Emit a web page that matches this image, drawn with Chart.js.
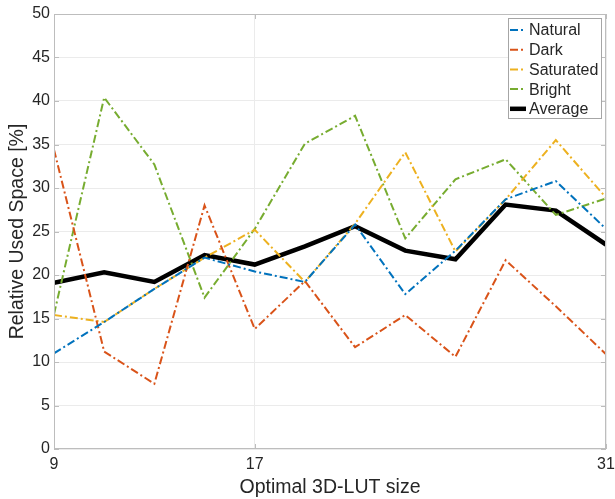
<!DOCTYPE html>
<html>
<head>
<meta charset="utf-8">
<script src="https://cdn.jsdelivr.net/npm/chart.js@4/dist/chart.umd.min.js"></script>
<style>
  html, body { margin: 0; padding: 0; background: #ffffff; }
  #wrap { width: 615px; height: 499px; }
</style>
</head>
<body>
<div id="wrap"><canvas id="c" width="615" height="499"></canvas></div>
<script>
// LUT sizes on the x axis and the relative used space per image class
const lutSizes = [9, 11, 13, 15, 17, 19, 21, 23, 25, 27, 29, 31];
const xTickValues = [9, 17, 31];
const naturalVals   = [11.0, 14.6, 18.4, 22.0, 20.4, 19.2, 25.8, 17.8, 22.8, 28.7, 30.8, 25.3];
const darkVals      = [34.4, 11.2, 7.5, 28.0, 13.8, 19.3, 11.7, 15.4, 10.6, 21.7, 16.4, 10.9];
const saturatedVals = [15.4, 14.6, 18.4, 22.0, 25.2, 19.2, 25.9, 34.1, 22.7, 28.7, 35.5, 28.9];
const brightVals    = [15.5, 40.4, 32.7, 17.4, 25.3, 35.1, 38.3, 24.2, 31.0, 33.3, 26.9, 28.8];
const averageVals   = [19.1, 20.3, 19.2, 22.3, 21.2, 23.3, 25.6, 22.8, 21.8, 28.1, 27.4, 23.5];
const seriesNames = ['Natural', 'Dark', 'Saturated', 'Bright', 'Average'];

const FONT = '"Liberation Sans", Arial, Helvetica, sans-serif';
const TEXT = '#262626';
const AXIS = '#bdbdbd';
const DASHDOT = [8, 3, 2, 3];

function pts(vals) { return vals.map((v, i) => ({ x: lutSizes[i], y: v })); }

function lineSet(label, vals, color, width, dash) {
  return {
    label, data: pts(vals), borderColor: color, backgroundColor: color,
    borderWidth: width, borderDash: dash, tension: 0, pointRadius: 0,
    fill: false, borderCapStyle: 'butt', borderJoinStyle: 'miter'
  };
}

// axes box with inward tick marks
const boxPlugin = {
  id: 'boxTicks',
  afterDraw(chart) {
    const { ctx, chartArea: a, scales } = chart;
    ctx.save();
    ctx.strokeStyle = AXIS;
    ctx.lineWidth = 1;
    ctx.setLineDash([]);
    ctx.strokeRect(a.left + 0.5, a.top + 0.5, a.right - a.left - 1, a.bottom - a.top - 1);
    const L = 5;
    ctx.beginPath();
    scales.y.ticks.forEach(t => {
      const y = Math.round(scales.y.getPixelForValue(t.value)) + 0.5;
      ctx.moveTo(a.left, y); ctx.lineTo(a.left + L, y);
      ctx.moveTo(a.right, y); ctx.lineTo(a.right - L, y);
    });
    scales.x.ticks.forEach(t => {
      const x = Math.round(scales.x.getPixelForValue(t.value)) + 0.5;
      ctx.moveTo(x, a.bottom); ctx.lineTo(x, a.bottom - L);
      ctx.moveTo(x, a.top); ctx.lineTo(x, a.top + L);
    });
    ctx.stroke();
    ctx.restore();
  }
};

// legend box in the upper right corner of the plot
const legendPlugin = {
  id: 'cornerLegend',
  afterDraw(chart) {
    const { ctx, chartArea: a } = chart;
    const boxW = 94, boxH = 101;
    const bx = a.right - 4 - boxW, by = a.top + 4;
    ctx.save();
    ctx.fillStyle = '#ffffff';
    ctx.fillRect(bx, by, boxW, boxH);
    ctx.strokeStyle = '#a6a6a6';
    ctx.lineWidth = 1;
    ctx.setLineDash([]);
    ctx.strokeRect(bx + 0.5, by + 0.5, boxW - 1, boxH - 1);
    ctx.font = '16px ' + FONT;
    ctx.textBaseline = 'middle';
    ctx.textAlign = 'left';
    chart.data.datasets.forEach((ds, i) => {
      const cy = by + 12 + i * 19.7;
      ctx.beginPath();
      ctx.strokeStyle = ds.borderColor;
      ctx.lineWidth = ds.borderWidth;
      ctx.setLineDash(ds.borderDash || []);
      ctx.moveTo(bx + 2, cy);
      ctx.lineTo(bx + 18, cy);
      ctx.stroke();
      ctx.setLineDash([]);
      ctx.fillStyle = TEXT;
      ctx.fillText(ds.label, bx + 21, cy + 1);
    });
    ctx.restore();
  }
};

new Chart(document.getElementById('c'), {
  type: 'line',
  data: {
    datasets: [
      lineSet(seriesNames[0], naturalVals, '#0072BD', 2, DASHDOT),
      lineSet(seriesNames[1], darkVals, '#D95319', 2, DASHDOT),
      lineSet(seriesNames[2], saturatedVals, '#EDB120', 2, DASHDOT),
      lineSet(seriesNames[3], brightVals, '#77AC30', 2, DASHDOT),
      lineSet(seriesNames[4], averageVals, '#000000', 4.5, [])
    ]
  },
  options: {
    responsive: false,
    animation: false,
    layout: { padding: { top: 14, right: 9, left: 0, bottom: 0 } },
    plugins: { legend: { display: false }, tooltip: { enabled: false } },
    scales: {
      x: {
        type: 'linear', min: 9, max: 31,
        afterBuildTicks: s => { s.ticks = xTickValues.map(v => ({ value: v })); },
        afterFit: s => { s.height = 50; s.paddingRight = 0; s.paddingLeft = 0; },
        grid: { color: '#ebebeb', drawTicks: false, lineWidth: 1 },
        border: { display: false },
        ticks: { color: TEXT, font: { family: FONT, size: 16 }, padding: 6, maxRotation: 0, autoSkip: false },
        title: { display: true, text: 'Optimal 3D-LUT size', color: TEXT,
                 font: { family: FONT, size: 19.5 }, padding: { top: 0, bottom: 0 } }
      },
      y: {
        min: 0, max: 50,
        afterFit: s => { s.width = 54; s.paddingTop = 0; s.paddingBottom = 0; },
        grid: { color: '#ebebeb', drawTicks: false, lineWidth: 1 },
        border: { display: false },
        ticks: { stepSize: 5, color: TEXT, font: { family: FONT, size: 16 }, padding: 4 },
        title: { display: true, text: 'Relative Used Space [%]', color: TEXT,
                 font: { family: FONT, size: 19.5 }, padding: { top: 6, bottom: 0 } }
      }
    }
  },
  plugins: [boxPlugin, legendPlugin]
});
</script>
</body>
</html>
